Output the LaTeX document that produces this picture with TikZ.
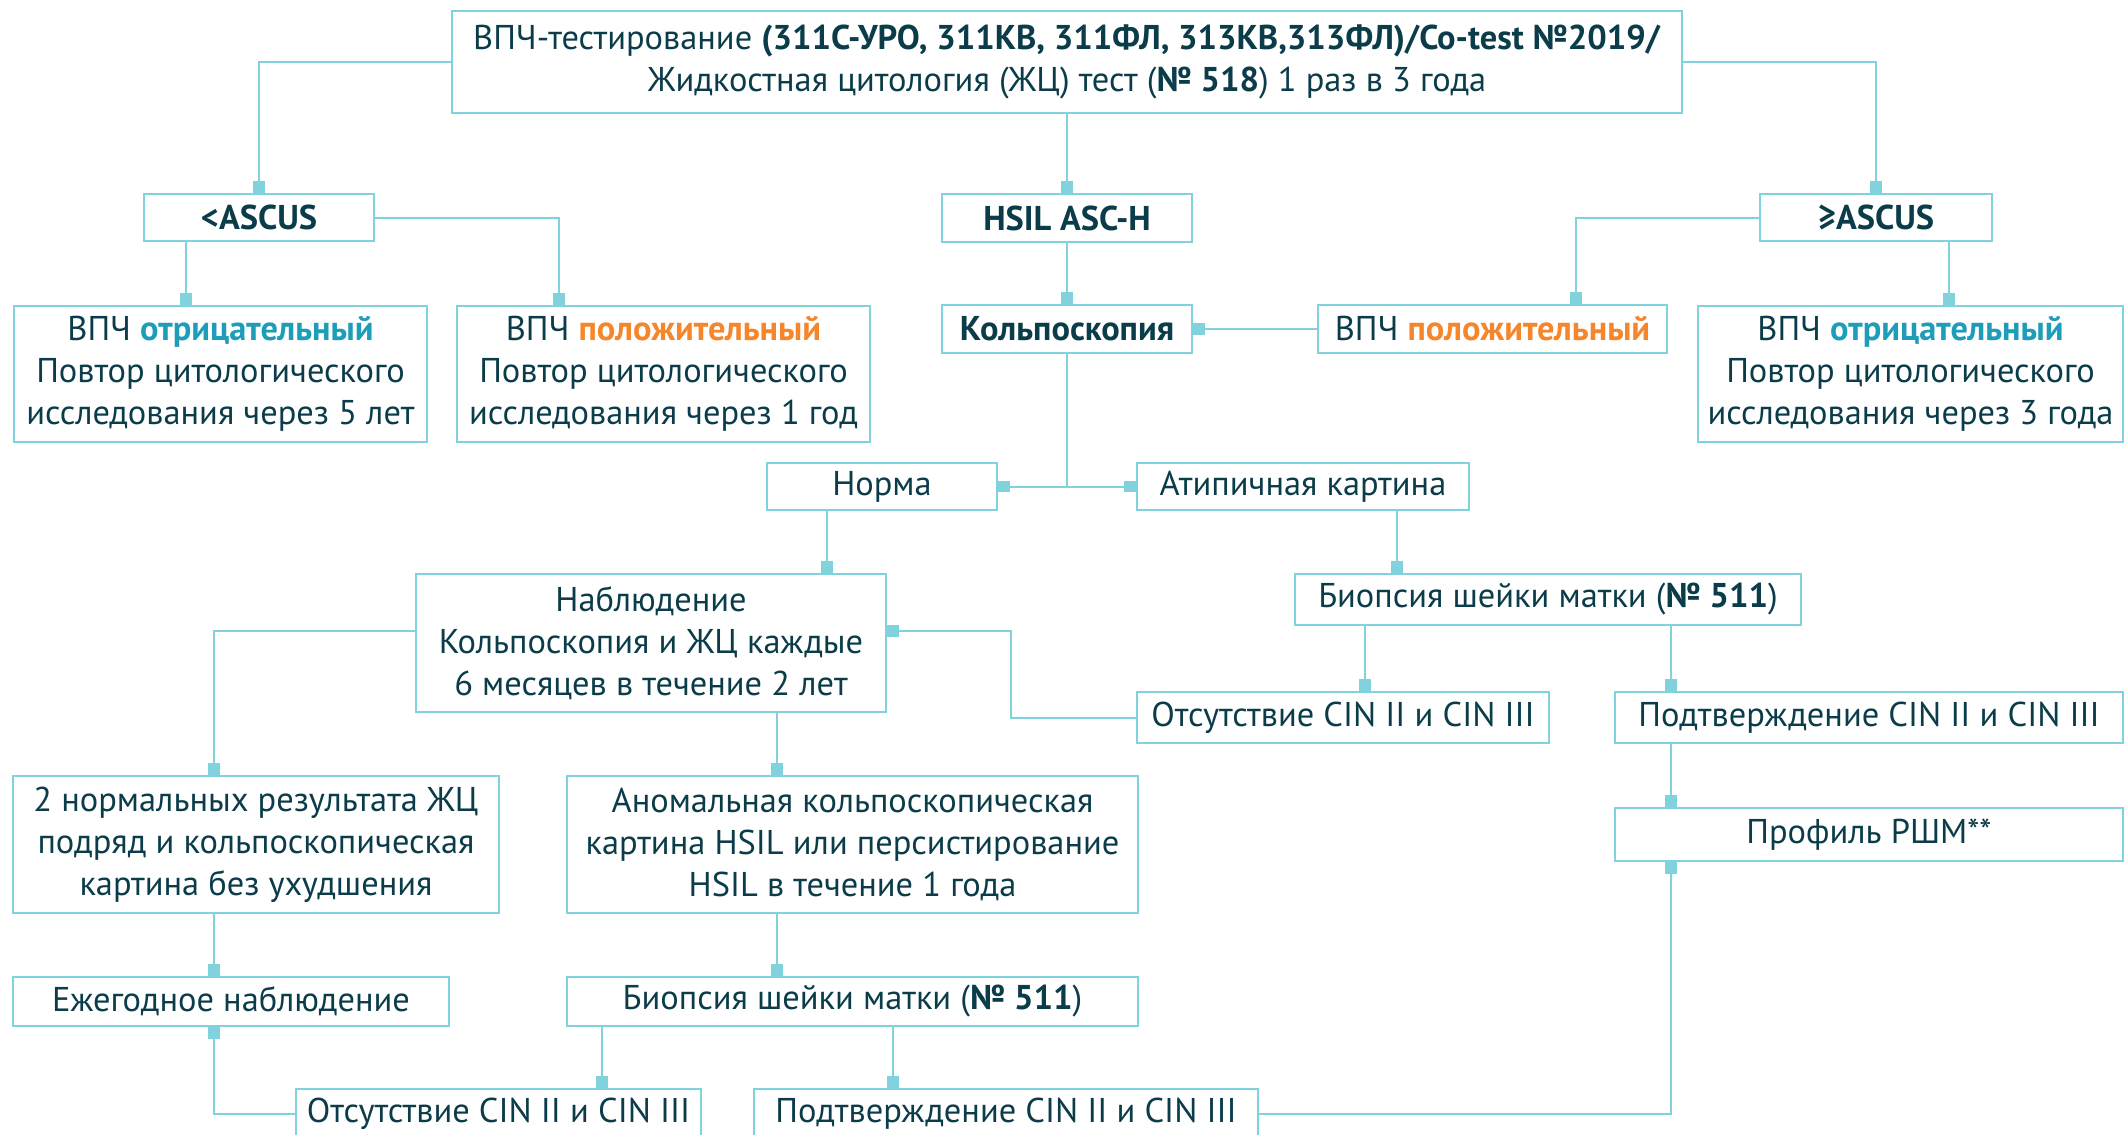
\documentclass[tikz,border=0pt]{standalone}
\usepackage{fontspec}
\setmainfont{PT Sans}
\usetikzlibrary{arrows.meta,calc}
\definecolor{lineC}{HTML}{80D3DD}
\definecolor{txtC}{HTML}{0B3C49}
\definecolor{negC}{HTML}{1E9DB8}
\definecolor{posC}{HTML}{F5862B}
\begin{document}
\begin{tikzpicture}[x=0.5pt,y=-0.5pt,
 box/.style={draw=lineC, line width=1pt, text=txtC, align=center, inner sep=0pt, font=\fontsize{17.2}{21}\selectfont},
 conn/.style={draw=lineC, line width=1pt, -{Square[length=5.8pt,width=5.8pt]}},
 plain/.style={draw=lineC, line width=1pt}]
\useasboundingbox (0,0) rectangle (2127,1135);

\node[box, minimum width=615pt, minimum height=51pt] (top) at (1067,62) {ВПЧ-тестирование \textbf{(311С-УРО, 311КВ, 311ФЛ, 313КВ,313ФЛ)/Co-test №2019/}\\Жидкостная цитология (ЖЦ) тест (\textbf{№ 518}) 1 раз в 3 года};
\node[box, minimum width=115pt, minimum height=23.5pt] (lasc) at (259,217.5) {\textbf{<ASCUS}};
\node[box, minimum width=125pt, minimum height=24pt] (hsil) at (1067,218) {\textbf{HSIL ASC-H}};
\node[box, minimum width=116pt, minimum height=23.5pt] (gasc) at (1876,217.5) {\textbf{≥ASCUS}};
\node[box, minimum width=206.5pt, minimum height=68pt] (neg1) at (220.5,374) {ВПЧ \textcolor{negC}{\textbf{отрицательный}}\\Повтор цитологического\\исследования через 5 лет};
\node[box, minimum width=206.5pt, minimum height=68pt] (pos1) at (663.5,374) {ВПЧ \textcolor{posC}{\textbf{положительный}}\\Повтор цитологического\\исследования через 1 год};
\node[box, minimum width=125pt, minimum height=24pt] (kolpo) at (1067,329) {\textbf{Кольпоскопия}};
\node[box, minimum width=174.5pt, minimum height=24pt] (pos2) at (1492.5,329) {ВПЧ \textcolor{posC}{\textbf{положительный}}};
\node[box, minimum width=212.5pt, minimum height=68pt] (neg2) at (1910.5,374) {ВПЧ \textcolor{negC}{\textbf{отрицательный}}\\Повтор цитологического\\исследования через 3 года};
\node[box, minimum width=115pt, minimum height=23.5pt] (norma) at (882,486.5) {Норма};
\node[box, minimum width=166pt, minimum height=23.5pt] (atyp) at (1303,486.5) {Атипичная картина};
\node[box, minimum width=235pt, minimum height=69pt] (nabl) at (651,643) {Наблюдение\\Кольпоскопия и ЖЦ каждые\\6 месяцев в течение 2 лет};
\node[box, minimum width=253pt, minimum height=25.5pt] (biop1) at (1548,599.5) {Биопсия шейки матки (\textbf{№ 511})};
\node[box, minimum width=206pt, minimum height=25.5pt] (abs1) at (1343,717.5) {Отсутствие CIN II и CIN III};
\node[box, minimum width=254pt, minimum height=25.5pt] (conf1) at (1869,717.5) {Подтверждение CIN II и CIN III};
\node[box, minimum width=254pt, minimum height=26.5pt] (prof) at (1869,834.5) {Профиль РШМ**};
\node[box, minimum width=243pt, minimum height=68.5pt] (norm2) at (256,844.5) {2 нормальных результата ЖЦ\\подряд и кольпоскопическая\\картина без ухудшения};
\node[box, minimum width=285.5pt, minimum height=68.5pt] (anom) at (852.5,844.5) {Аномальная кольпоскопическая\\картина HSIL или персистирование\\HSIL в течение 1 года};
\node[box, minimum width=218pt, minimum height=24.5pt] (yearly) at (231,1001.5) {Ежегодное наблюдение};
\node[box, minimum width=285.5pt, minimum height=24.5pt] (biop2) at (852.5,1001.5) {Биопсия шейки матки (\textbf{№ 511})};
\node[box, minimum width=202.5pt, minimum height=25pt] (abs2) at (498.5,1114) {Отсутствие CIN II и CIN III};
\node[box, minimum width=252pt, minimum height=25pt] (conf2) at (1006,1114) {Подтверждение CIN II и CIN III};

% connectors
\draw[conn] (top.west) -| (lasc.north);
\draw[conn] (top.south) -- (hsil.north);
\draw[conn] (top.east) -| (gasc.north);

\coordinate (c1) at ($(lasc.south)+(-73,0)$);
\draw[conn] (c1) -- (c1 |- neg1.north);
\draw[conn] (lasc.east) -| ($(pos1.north)+(-104.5,0)$);
\draw[conn] (hsil.south) -- (kolpo.north);
\draw[conn] (pos2.west) -- (kolpo.east);
\draw[conn] (gasc.west) -| ($(pos2.north)+(83.5,0)$);
\coordinate (c2) at ($(gasc.south)+(73,0)$);
\draw[conn] (c2) -- (c2 |- neg2.north);

\coordinate (j1) at (kolpo.south |- norma.east);
\draw[plain] (kolpo.south) -- (j1);
\draw[conn] (j1) -- (norma.east);
\draw[conn] (j1) -- (atyp.west);

\coordinate (c3) at ($(norma.south)+(-55,0)$);
\draw[conn] (c3) -- (c3 |- nabl.north);
\coordinate (c4) at ($(atyp.south)+(94,0)$);
\draw[conn] (c4) -- (c4 |- biop1.north);

\coordinate (c5) at ($(nabl.west)+(0,-12)$);
\draw[conn] (c5) -| ($(norm2.north)+(-42,0)$);
\coordinate (c6) at ($(nabl.south)+(126,0)$);
\draw[conn] (c6) -- (c6 |- anom.north);
\coordinate (c7) at ($(nabl.east)+(0,-12)$);
\draw[conn] (abs1.west) -- ++(-125,0) |- (c7);

\coordinate (c8) at ($(biop1.south)+(-183,0)$);
\draw[conn] (c8) -- (c8 |- abs1.north);
\coordinate (c9) at ($(biop1.south)+(123,0)$);
\draw[conn] (c9) -- (c9 |- conf1.north);
\coordinate (c10) at ($(conf1.south)+(-198,0)$);
\draw[conn] (c10) -- (c10 |- prof.north);

\coordinate (c11) at ($(norm2.south)+(-42,0)$);
\draw[conn] (c11) -- (c11 |- yearly.north);
\coordinate (c12) at ($(anom.south)+(-75.5,0)$);
\draw[conn] (c12) -- (c12 |- biop2.north);
\coordinate (c13) at ($(biop2.south)+(-250.5,0)$);
\draw[conn] (c13) -- (c13 |- abs2.north);
\coordinate (c14) at ($(biop2.south)+(40.5,0)$);
\draw[conn] (c14) -- (c14 |- conf2.north);

\draw[conn] (abs2.west) -| ($(yearly.south)+(-17,0)$);
\draw[conn] (conf2.east) -| ($(prof.south)+(-198,0)$);
\end{tikzpicture}
\end{document}
